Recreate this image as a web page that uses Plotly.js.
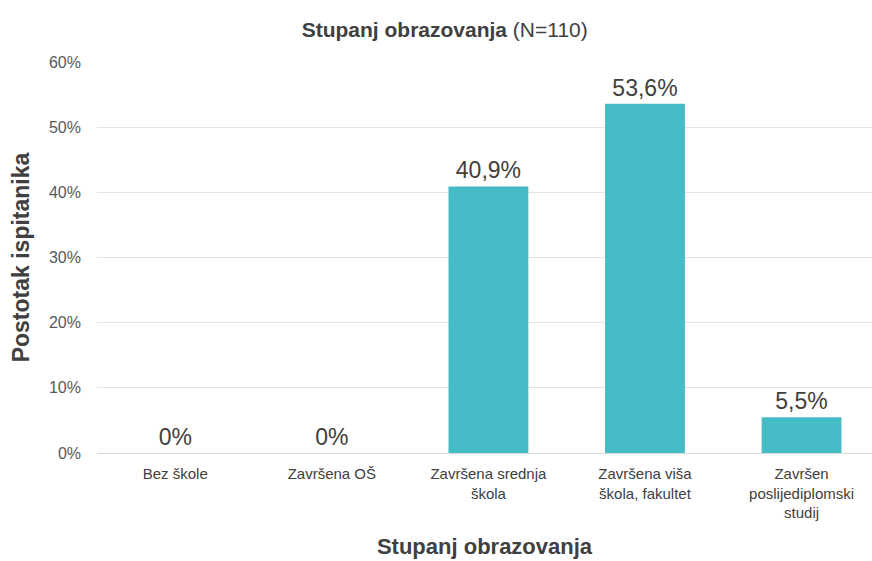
<!DOCTYPE html>
<html><head><meta charset="utf-8">
<script src="https://cdn.plot.ly/plotly-3.0.1.min.js"></script>
<style>html,body{margin:0;padding:0;background:#fff}#c{width:872px;height:561px}</style>
</head><body><div id="c"></div>
<script>
const categories = ['Bez škole', 'Završena OŠ', 'Završena srednja<br>škola', 'Završena viša<br>škola, fakultet', 'Završen<br>poslijediplomski<br>studij'];
const values = [0, 0, 40.9, 53.6, 5.5];
const yTicks = [0, 10, 20, 30, 40, 50, 60];

const labels = values.map(v => v === 0 ? '0%' : v.toFixed(1).replace('.', ',') + '%');

const trace = {
  type: 'bar',
  x: [0,1,2,3,4],
  y: values,
  text: labels,
  textposition: 'outside',
  cliponaxis: false,
  textfont: {family: 'Liberation Sans, Arial, sans-serif', size: 23, color: '#404040'},
  marker: {color: '#45bcc5', line: {width: 0}},
  hoverinfo: 'none'
};

const layout = {
  width: 872, height: 561,
  margin: {l: 97, r: 0, t: 62, b: 108},
  paper_bgcolor: '#fff', plot_bgcolor: '#fff',
  bargap: 0.49,
  showlegend: false,
  font: {family: 'Liberation Sans, Arial, sans-serif', color: '#595959'},
  title: {
    text: '<b>Stupanj obrazovanja</b> (N=110)',
    font: {size: 21, color: '#404040'},
    x: 0.51, xanchor: 'center', y: 0.947, yanchor: 'middle'
  },
  xaxis: {
    range: [-0.5, 4.45],
    tickvals: [0,1,2,3,4],
    ticktext: categories,
    tickfont: {size: 15, color: '#404040'},
    ticklabelstandoff: 10,
    showgrid: false, zeroline: false, showline: false, ticks: '',
    title: {text: '<b>Stupanj obrazovanja</b>', font: {size: 22, color: '#404040'}, standoff: 18}
  },
  yaxis: {
    range: [0, 60],
    tickvals: yTicks,
    ticktext: yTicks.map(t => t + '%'),
    tickfont: {size: 16, color: '#595959'},
    ticklabelstandoff: 15,
    showgrid: true, gridcolor: '#e3e3e3', gridwidth: 1,
    zeroline: true, zerolinecolor: '#d9d9d9', zerolinewidth: 1,
    showline: false, ticks: '', ticklen: 0,
    title: {text: '<b>Postotak ispitanika</b>', font: {size: 23, color: '#404040'}, standoff: 12}
  }
};

Plotly.newPlot('c', [trace], layout, {displayModeBar: false, staticPlot: true});
</script>
</body></html>
